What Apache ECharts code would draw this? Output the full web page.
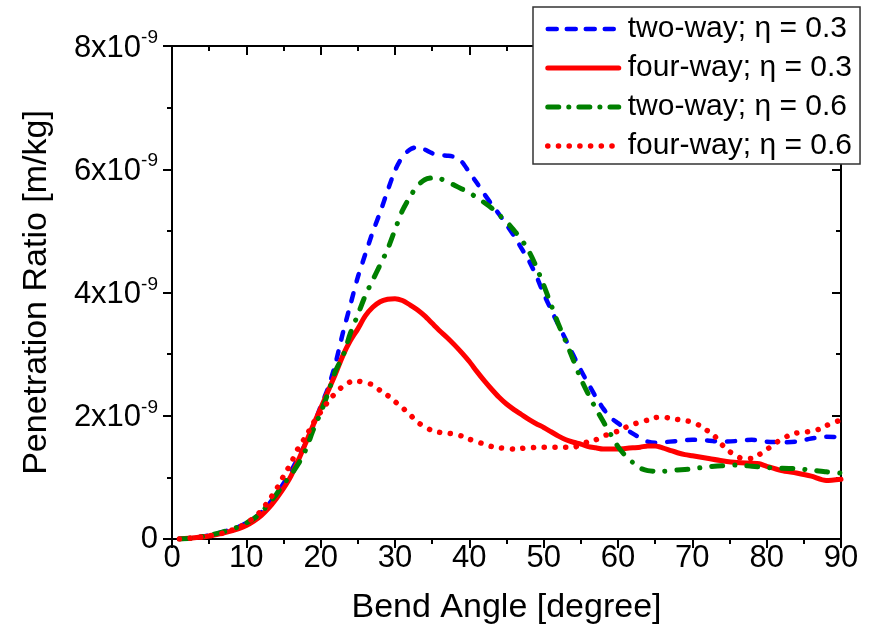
<!DOCTYPE html>
<html>
<head>
<meta charset="utf-8">
<script src="https://cdn.jsdelivr.net/npm/echarts@6/dist/echarts.min.js"></script>
<style>
html,body{margin:0;padding:0;background:#fff;}
#chart{width:871px;height:634px;}
</style>
</head>
<body>
<div id="chart"></div>
<script>
// Values in units of 1e-9 m/kg, angle in degrees
const xTicks = [0,10,20,30,40,50,60,70,80,90];
const yTicks = [0,2,4,6,8];

const twoWay03 = [[1,0],[3,0.02],[5,0.06],[7,0.12],[9,0.2],[10,0.26],[11,0.33],[12,0.43],[13,0.56],[14,0.72],[15,0.9],[16,1.1],[17,1.32],[18,1.56],[19,1.83],[20,2.15],[21,2.45],[22,2.85],[23,3.35],[24,3.8],[25,4.25],[26,4.62],[27,4.98],[28,5.3],[29,5.65],[30,5.98],[31,6.2],[32,6.32],[33,6.36],[34,6.32],[35,6.26],[36,6.23],[37,6.22],[38,6.2],[39,6.12],[40,5.95],[41,5.78],[42,5.6],[43,5.43],[44,5.27],[45,5.1],[46,4.92],[47,4.72],[48,4.52],[49,4.27],[50,3.98],[51,3.72],[52,3.47],[53,3.23],[54,2.98],[55,2.74],[56,2.52],[57,2.31],[58,2.12],[59,1.97],[60,1.88],[61,1.79],[62,1.71],[63,1.64],[64,1.58],[65,1.56],[66,1.57],[68,1.59],[70,1.61],[72,1.6],[74,1.58],[76,1.59],[78,1.61],[80,1.58],[82,1.57],[84,1.58],[86,1.63],[88,1.66],[90,1.65]];

const fourWay03 = [[1,0],[3,0.02],[5,0.05],[7,0.1],[9,0.17],[10,0.22],[11,0.29],[12,0.38],[13,0.5],[14,0.65],[15,0.82],[16,1.02],[17,1.28],[18,1.56],[19,1.85],[20,2.12],[21,2.4],[22,2.68],[23,2.98],[24,3.22],[25,3.41],[26,3.62],[27,3.76],[28,3.85],[29,3.89],[30,3.9],[31,3.87],[32,3.8],[33,3.72],[34,3.62],[35,3.5],[36,3.38],[37,3.27],[38,3.15],[39,3.02],[40,2.88],[41,2.72],[42,2.57],[43,2.43],[44,2.3],[45,2.19],[46,2.1],[47,2.02],[48,1.94],[49,1.87],[50,1.81],[51,1.74],[52,1.67],[53,1.61],[54,1.57],[55,1.54],[56,1.5],[57,1.48],[58,1.46],[59,1.46],[60,1.46],[61,1.47],[62,1.48],[63,1.49],[64,1.51],[65,1.51],[66,1.48],[67,1.44],[68,1.4],[69,1.37],[70,1.35],[72,1.31],[74,1.27],[76,1.24],[78,1.23],[79,1.22],[80,1.18],[82,1.11],[84,1.07],[86,1.02],[88,0.95],[90,0.97]];

const twoWay06 = [[1,0],[3,0.02],[5,0.06],[7,0.12],[9,0.2],[10,0.26],[11,0.33],[12,0.43],[13,0.57],[14,0.72],[15,0.89],[16,1.04],[17,1.22],[18,1.45],[19,1.77],[20,2.05],[21,2.37],[22,2.73],[23,2.97],[24,3.34],[25,3.64],[26,3.95],[27,4.2],[28,4.45],[29,4.7],[30,5.02],[31,5.33],[32,5.55],[33,5.73],[34,5.83],[35,5.86],[36,5.85],[37,5.8],[38,5.74],[39,5.68],[40,5.62],[41,5.54],[42,5.46],[43,5.37],[44,5.26],[45,5.15],[46,5.01],[47,4.86],[48,4.67],[49,4.42],[50,4.12],[51,3.8],[52,3.48],[53,3.2],[54,2.9],[55,2.6],[56,2.35],[57,2.12],[58,1.91],[59,1.7],[60,1.5],[61,1.35],[62,1.24],[63,1.15],[64,1.11],[65,1.1],[66,1.1],[68,1.12],[70,1.14],[72,1.17],[74,1.19],[76,1.2],[78,1.18],[80,1.16],[82,1.15],[84,1.14],[86,1.12],[88,1.09],[90,1.07]];

const fourWay06 = [[1,0],[3,0.02],[5,0.05],[7,0.1],[9,0.19],[10,0.26],[11,0.34],[12,0.46],[13,0.62],[14,0.8],[15,1.02],[16,1.23],[17,1.48],[18,1.66],[19,1.88],[20,2.06],[21,2.23],[22,2.37],[23,2.48],[24,2.55],[25,2.56],[26,2.54],[27,2.5],[28,2.41],[29,2.33],[30,2.23],[31,2.13],[32,2.02],[33,1.9],[34,1.82],[35,1.76],[36,1.73],[37,1.72],[38,1.7],[39,1.67],[40,1.62],[41,1.58],[42,1.54],[43,1.5],[44,1.48],[45,1.47],[46,1.46],[47,1.47],[48,1.48],[50,1.49],[52,1.49],[54,1.49],[55,1.53],[56,1.58],[57,1.61],[58,1.67],[59,1.71],[60,1.75],[61,1.81],[62,1.86],[63,1.9],[64,1.93],[65,1.97],[66,1.98],[67,1.96],[68,1.94],[69,1.92],[70,1.9],[71,1.84],[72,1.76],[73,1.67],[74,1.53],[75,1.42],[76,1.34],[77,1.3],[78,1.31],[79,1.37],[80,1.45],[81,1.54],[82,1.62],[83,1.68],[84,1.72],[85,1.73],[86,1.75],[87,1.78],[88,1.84],[89,1.89],[90,1.93]];

const seriesNames = ['two-way; \u03b7 = 0.3','four-way; \u03b7 = 0.3','two-way; \u03b7 = 0.6','four-way; \u03b7 = 0.6'];

const FONT = "'Liberation Sans', Arial, sans-serif";
const axisLineStyle = {color:'#000', width:2};

const styles = [
  {color:'#0000ff', width:4.5, type:[8,12]},
  {color:'#ff0000', width:5, type:'solid'},
  {color:'#008000', width:5, type:[11,12,0.1,12]},
  {color:'#ff0000', width:5.5, type:[0.1,10.6]}
];
const legendStyles = [
  {color:'#0000ff', width:4.5, type:[9,10]},
  {color:'#ff0000', width:5, type:'solid'},
  {color:'#008000', width:5, type:[11,10,0.1,10]},
  {color:'#ff0000', width:5.5, type:[0.1,10.6]}
];

const chart = echarts.init(document.getElementById('chart'), null, {renderer:'canvas'});

function xAxisBase(pos, inside, labels){
  return {
    type:'value', position:pos, min:0, max:90, interval:10,
    axisLine:{show:true, onZero:false, lineStyle:axisLineStyle},
    axisTick:{show:true, inside:inside, length:9, lineStyle:{color:'#000', width:2}},
    minorTick:{show:true, splitNumber:2, length:5, lineStyle:{color:'#000', width:2}},
    splitLine:{show:false},
    axisLabel:{show:labels, color:'#000', fontSize:31, fontFamily:FONT, margin:4},
  };
}
function yAxisBase(pos, inside, labels){
  return {
    type:'value', position:pos, min:0, max:8, interval:2,
    axisLine:{show:true, onZero:false, lineStyle:axisLineStyle},
    axisTick:{show:true, inside:inside, length:9, lineStyle:{color:'#000', width:2}},
    minorTick:{show:true, splitNumber:2, length:5, lineStyle:{color:'#000', width:2}},
    splitLine:{show:false},
    axisLabel:{show:labels, color:'#000', fontFamily:FONT, margin:14,
      formatter: v => v === 0 ? '{b|0}' : '{b|' + v + 'x10}{s|-9}',
      rich:{
        b:{fontSize:31, fontFamily:FONT, color:'#000', verticalAlign:'bottom'},
        s:{fontSize:19, fontFamily:FONT, color:'#000', verticalAlign:'bottom', padding:[0,0,16,0]}
      }
    },
  };
}

const xb = xAxisBase('bottom', false, true);
xb.name = 'Bend Angle [degree]';
xb.nameLocation = 'middle';
xb.nameGap = 52;
xb.nameTextStyle = {fontSize:34, fontFamily:FONT, color:'#000'};
const xt = xAxisBase('top', true, false);

const yl = yAxisBase('left', false, true);
yl.name = 'Penetration Ratio [m/kg]';
yl.nameLocation = 'middle';
yl.nameGap = 118;
yl.nameRotate = 90;
yl.nameTextStyle = {fontSize:34, fontFamily:FONT, color:'#000'};
const yr = yAxisBase('right', true, false);

function mk(i, data){
  const s = styles[i];
  return {
    name:seriesNames[i], type:'line', data:data, xAxisIndex:0, yAxisIndex:0,
    symbol:'none', smooth:0.25, z:3,
    lineStyle:{color:s.color, width:s.width, type:s.type, cap:'round', join:'round'},
    itemStyle:{color:s.color},
    emphasis:{disabled:true}
  };
}

chart.setOption({
  animation:false,
  backgroundColor:'#fff',
  grid:{left:172, right:30, top:46, bottom:95, containLabel:false},
  xAxis:[xb, xt],
  yAxis:[yl, yr],
  legend:{
    orient:'vertical', left:533, top:7, width:331,
    padding:[7,8,3,12], itemGap:9, itemWidth:71, itemHeight:14,
    backgroundColor:'#fff', borderColor:'#333', borderWidth:1.5,
    textStyle:{fontSize:30, fontFamily:FONT, color:'#000', padding:[0,0,0,4]},
    itemStyle:{opacity:0, borderWidth:0},
    data:seriesNames.map((n,i)=>({
      name:n,
      itemStyle:{opacity:0, borderWidth:0},
      lineStyle:{color:legendStyles[i].color, width:legendStyles[i].width, type:legendStyles[i].type, cap:'round', opacity:1}
    })),
    z:10
  },
  series:[
    mk(0, twoWay03),
    mk(1, fourWay03),
    mk(2, twoWay06),
    mk(3, fourWay06)
  ]
});
</script>
</body>
</html>
